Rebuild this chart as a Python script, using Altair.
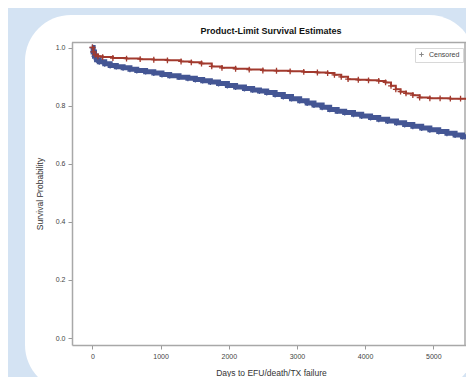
import altair as alt
import pandas as pd

# ---- data ----
red_days = [0, 15, 40, 80, 150, 300, 500, 700, 900, 1100, 1300, 1450, 1600, 1750,
            1900, 2100, 2300, 2500, 2700, 2900, 3100, 3300, 3450, 3550, 3650, 3750,
            3900, 4050, 4200, 4300, 4380, 4450, 4520, 4600, 4700, 4800, 4950, 5100,
            5250, 5400, 5500]
red_surv = [1.0, 0.985, 0.975, 0.97, 0.967, 0.964, 0.962, 0.96, 0.958, 0.956, 0.952,
            0.949, 0.945, 0.935, 0.93, 0.927, 0.924, 0.921, 0.92, 0.918, 0.916, 0.914,
            0.912, 0.906, 0.899, 0.891, 0.889, 0.887, 0.885, 0.88, 0.868, 0.856, 0.848,
            0.842, 0.836, 0.828, 0.825, 0.825, 0.824, 0.824, 0.824]

blue_days = [0, 10, 30, 60, 100, 180, 260, 350, 450, 550, 650, 780, 900, 1020, 1133,
             1270, 1400, 1510, 1617, 1730, 1850, 1980, 2100, 2230, 2350, 2450, 2556,
             2680, 2800, 2920, 3040, 3150, 3250, 3370, 3480, 3590, 3700, 3830, 3950,
             4080, 4200, 4330, 4461, 4580, 4700, 4830, 4950, 5080, 5200, 5320, 5430,
             5500]
blue_surv = [1.0, 0.985, 0.97, 0.958, 0.951, 0.944, 0.938, 0.934, 0.93, 0.925, 0.921,
             0.917, 0.912, 0.907, 0.903, 0.898, 0.894, 0.89, 0.886, 0.881, 0.876, 0.869,
             0.864, 0.859, 0.854, 0.85, 0.845, 0.838, 0.831, 0.824, 0.817, 0.809, 0.802,
             0.794, 0.787, 0.781, 0.776, 0.77, 0.764, 0.759, 0.753, 0.747, 0.741, 0.735,
             0.729, 0.723, 0.717, 0.711, 0.705, 0.699, 0.693, 0.69]

x_ticks = [0, 1000, 2000, 3000, 4000, 5000]
y_ticks = [0.0, 0.2, 0.4, 0.6, 0.8, 1.0]

title = "Product-Limit Survival Estimates"
x_title = "Days to EFU/death/TX failure"
y_title = "Survival Probability"
legend_label = "Censored"

BLUE = "#445694"
RED = "#A23A2E"
FRAME = "#a8a8a8"

df = pd.concat([
    pd.DataFrame({"days": blue_days, "surv": blue_surv, "grp": "1"}),
    pd.DataFrame({"days": red_days, "surv": red_surv, "grp": "2"}),
], ignore_index=True)
df["lab"] = legend_label

W, H = 394, 303

xs = alt.Scale(domain=[-300, 5480], nice=False, zero=False)
ys = alt.Scale(domain=[-0.024, 1.019], nice=False, zero=False)
cs = alt.Scale(domain=["1", "2"], range=[BLUE, RED])

x_axis = alt.Axis(values=x_ticks, title=x_title, format="d", zindex=2,
                  domain=True, domainColor=FRAME, domainWidth=1.5,
                  titleX=199, titleY=27, titleBaseline="middle")
y_axis = alt.Axis(values=y_ticks, title=y_title, format=".1f", zindex=2,
                  domain=True, domainColor=FRAME, domainWidth=1.5,
                  titleX=-33, titleY=H / 2, titleBaseline="middle", titleAlign="center")

one = pd.DataFrame({"t": [title]})

panel = alt.Chart(one).mark_rect(color="white", cornerRadius=46).encode(
    x=alt.value(-47), x2=alt.value(403), y=alt.value(-27), y2=alt.value(349)
)

top_rule = alt.Chart(one).mark_rule(color=FRAME, strokeWidth=1.5).encode(
    x=alt.value(0), x2=alt.value(W), y=alt.value(0.5)
)
right_rule = alt.Chart(one).mark_rule(color=FRAME, strokeWidth=1.5).encode(
    x=alt.value(W - 1), y=alt.value(0), y2=alt.value(H)
)

ttl = alt.Chart(one).mark_text(fontSize=9, fontWeight="bold", font="Liberation Sans",
                               color="#111", baseline="alphabetic", align="center").encode(
    x=alt.value(199), y=alt.value(-8), text="t:N"
)

base = alt.Chart(df)

lines = base.mark_line(interpolate="step-after", clip=True).encode(
    x=alt.X("days:Q", scale=xs, axis=x_axis),
    y=alt.Y("surv:Q", scale=ys, axis=y_axis),
    color=alt.Color("grp:N", scale=cs, legend=None),
    strokeWidth=alt.StrokeWidth("grp:N", scale=alt.Scale(domain=["1", "2"], range=[5, 2]),
                                legend=None),
    detail="grp:N",
)

cens = base.mark_point(filled=False, strokeWidth=1.3, size=34, opacity=1, clip=True).encode(
    x=alt.X("days:Q", scale=xs, axis=x_axis),
    y=alt.Y("surv:Q", scale=ys, axis=y_axis),
    color=alt.Color("grp:N", scale=cs, legend=None),
    shape=alt.Shape("lab:N",
                    scale=alt.Scale(domain=[legend_label], range=["M-1,0L1,0M0,-1L0,1"]),
                    legend=alt.Legend(title=None, orient="none", legendX=343, legendY=6,
                                      fillColor="white", strokeColor="#d8d8d8",
                                      padding=3, labelFontSize=7, labelColor="#444",
                                      symbolSize=20, symbolStrokeColor="#888",
                                      symbolStrokeWidth=1, symbolFillColor="transparent")),
)

chart = alt.layer(panel, top_rule, right_rule, ttl, lines, cens).properties(
    width=W, height=H,
    background="#d4e3f3",
    autosize=alt.AutoSizeParams(type="none"),
    padding={"left": 64, "top": 34, "right": 0, "bottom": 32},
).configure_view(stroke=None).configure_axis(
    grid=False, tickColor="#999999", tickSize=4,
    labelFont="Liberation Sans", labelFontSize=7, labelColor="#444",
    titleFont="Liberation Sans", titleFontSize=8.5, titleColor="#333",
    titleFontWeight="normal", labelPadding=3,
)

chart.save("out.html", embed_options={"renderer": "svg", "actions": False})
